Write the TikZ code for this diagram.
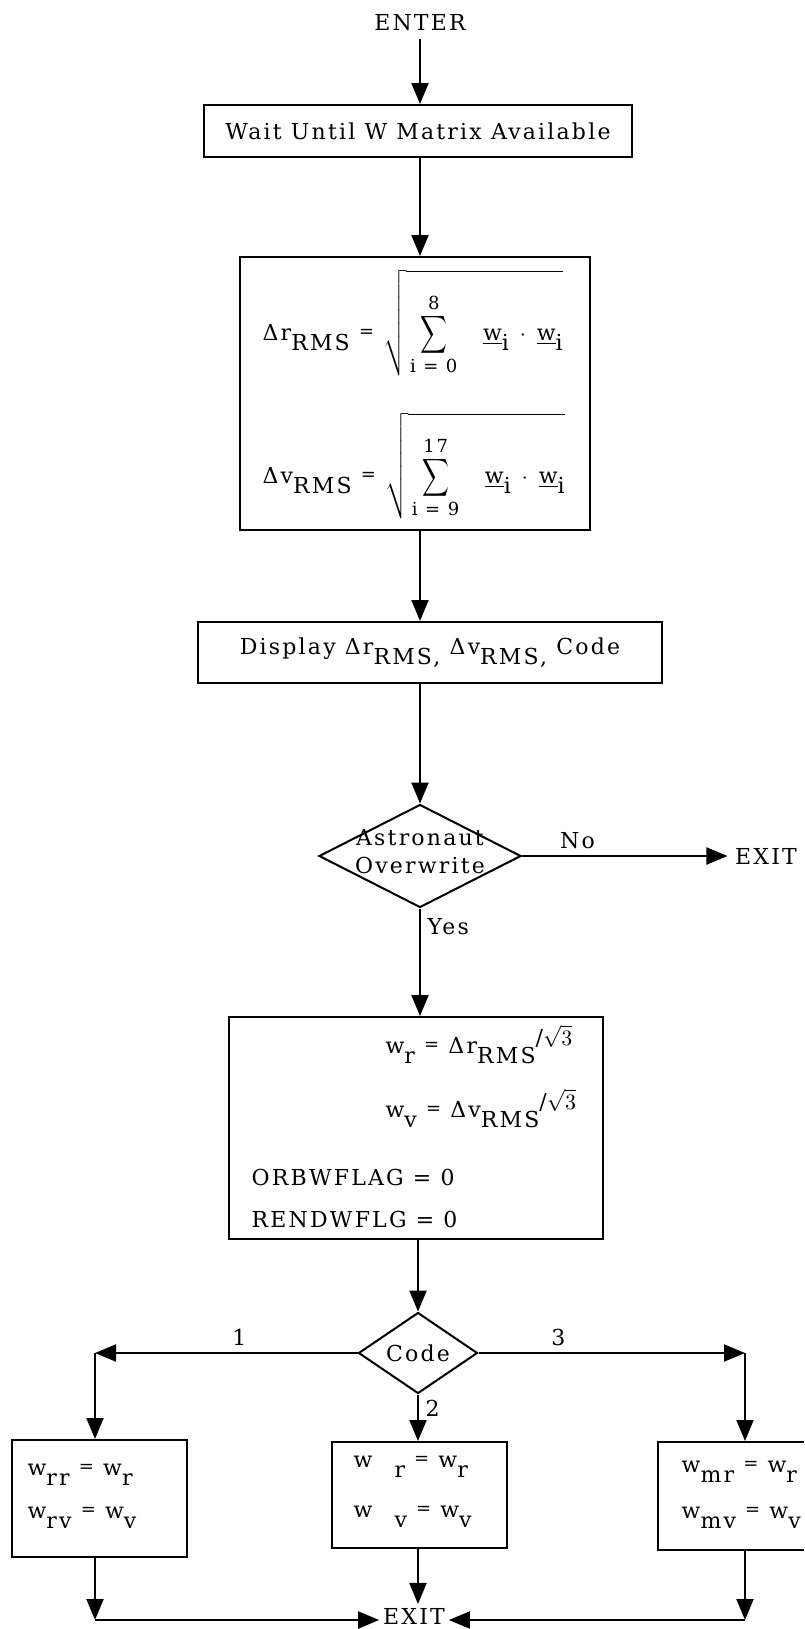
\documentclass[tikz,border=0pt]{standalone}
\usepackage{fontspec}
\usepackage{amsmath}
\usepackage{graphicx}
\setmainfont{DejaVu Serif}[LetterSpace=10]
\usetikzlibrary{arrows.meta,shapes.geometric}
% typed sub- and superscripts
\newcommand\lsub[1]{\raisebox{-5pt}{#1}}
\newcommand\rsup[1]{\raisebox{4pt}{#1}}
\newcommand\eqs{\raisebox{1.5pt}{\small =}}
\newcommand\bigsum{\mathop{\vcenter{\hbox{\scalebox{0.85}[1.2]{$\displaystyle\sum$}}}}\limits}
\begin{document}
\begin{tikzpicture}[x=0.5pt,y=-0.5pt,line width=1pt,>={Triangle[length=10.5pt,width=8.5pt]},
  font=\fontsize{11}{14}\selectfont,
  box/.style={draw,inner sep=0pt},
  dec/.style={draw,diamond,inner sep=0pt,shape aspect=1.5}]
\useasboundingbox (0,0) rectangle (804,1629);
\clip (0,0) rectangle (804,1629);
\node (enter) at (420,23) {ENTER};
\node[box,minimum width=214pt,minimum height=26pt] (wait) at (418,131) {Wait Until W Matrix Available};
\draw[->] (enter.south) -- (enter.south |- wait.north);
% rms box
\node[box,minimum width=175pt,minimum height=136.5pt] (rms) at (415,393.5) {};
\node[anchor=base west] (drms) at (255,340) {Δr\lsub{RMS} \eqs{} $\sqrt{\rule[-9pt]{0pt}{42pt}\bigsum_{\mbox{\small i = 0}}^{\mbox{\small 8}}\quad\underline{\mbox{w}}\lsub{i}\;\cdot\;\underline{\mbox{w}}\lsub{i}}$};
\node[anchor=base west] (dvms) at (255,483) {Δv\lsub{RMS} \eqs{} $\sqrt{\rule[-9pt]{0pt}{42pt}\bigsum_{\mbox{\small i = 9}}^{\mbox{\small 17}}\quad\underline{\mbox{w}}\lsub{i}\;\cdot\;\underline{\mbox{w}}\lsub{i}}$};
\draw[->] (wait.south -| enter) -- (rms.north -| enter);
\node[box,minimum width=232pt,minimum height=30.5pt] (disp) at (430,652.5) {Display Δr\lsub{RMS,} Δv\lsub{RMS,} Code};
\draw[->] (rms.south -| enter) -- (disp.north -| enter);
% astronaut decision
\node[dec,minimum width=101pt,minimum height=51.5pt] (astro) at (420,856) {};
\node[align=center] (astrotext) at (420,852) {Astronaut\\Overwrite};
\draw[->] (disp.south -| enter) -- (astro.north);
\node (exit1) at (766,856) {EXIT};
\draw[->] (astro.east) -- node[above,pos=0.27]{No} (exit1.west);
% weights box
\node[box,minimum width=187pt,minimum height=111pt] (wbox) at (416,1128) {};
\node[anchor=base west] (wr) at (378,1053) {w\lsub{r} \eqs{} Δr\lsub{RMS}\rsup{/$\sqrt{3}$}};
\node[anchor=base west] (wv) at (378,1117) {w\lsub{v} \eqs{} Δv\lsub{RMS}\rsup{/$\sqrt{3}$}};
\node[anchor=base west] (orb) at (244,1185) {ORBWFLAG = 0};
\node[anchor=base west] (rend) at (244,1227) {RENDWFLG = 0};
\draw[->] (astro.south) -- node[right,pos=0.17]{Yes} (astro.south |- wbox.north);
% code decision
\node[dec,minimum width=59.5pt,minimum height=40.5pt] (code) at (418,1353) {Code};
\draw[->] (wbox.south -| code) -- (code.north);
\coordinate (c1) at (95,1353);
\coordinate (c3) at (745,1353);
\node[box,minimum width=87.5pt,minimum height=58.5pt] (rr) at (99.5,1498.5) {};
\node[box,minimum width=87.5pt,minimum height=53pt] (rv) at (419.5,1495) {};
\node[box,minimum width=87.5pt,minimum height=54pt] (mr) at (745.5,1496) {};
\node[anchor=base west] (rr1) at (20,1475) {w\lsub{rr} \eqs{} w\lsub{r}};
\node[anchor=base west] (rr2) at (20,1518) {w\lsub{rv} \eqs{} w\lsub{v}};
\node[anchor=base west] (rv1) at (346,1467) {w\lsub{\hspace{1em}r} \eqs{} w\lsub{r}};
\node[anchor=base west] (rv2) at (346,1517) {w\lsub{\hspace{1em}v} \eqs{} w\lsub{v}};
\node[anchor=base west] (mr1) at (674,1472) {w\lsub{mr} \eqs{} w\lsub{r}};
\node[anchor=base west] (mr2) at (674,1518) {w\lsub{mv} \eqs{} w\lsub{v}};
\draw[->] (code.west) -- node[above,pos=0.45]{1} (c1);
\draw[->] (c1) -- (c1 |- rr.north);
\draw[->] (code.south) -- node[right,pos=0.3]{2} (code.south |- rv.north);
\draw[->] (code.east) -- node[above,pos=0.3]{3} (c3);
\draw[->] (c3) -- (c3 |- mr.north);
% exit
\node[inner sep=1.5pt,anchor=base] (exit2) at (414,1624) {EXIT};
\coordinate (d1) at (95,1620);
\coordinate (d3) at (745,1620);
\draw[->] (rr.south -| d1) -- (d1);
\draw[->] (d1) -- (d1 -| exit2.west);
\draw[->] (rv.south -| code) -- (exit2.north -| code);
\draw[->] (mr.south -| d3) -- (d3);
\draw[->] (d3) -- (d3 -| exit2.east);
\end{tikzpicture}
\end{document}
